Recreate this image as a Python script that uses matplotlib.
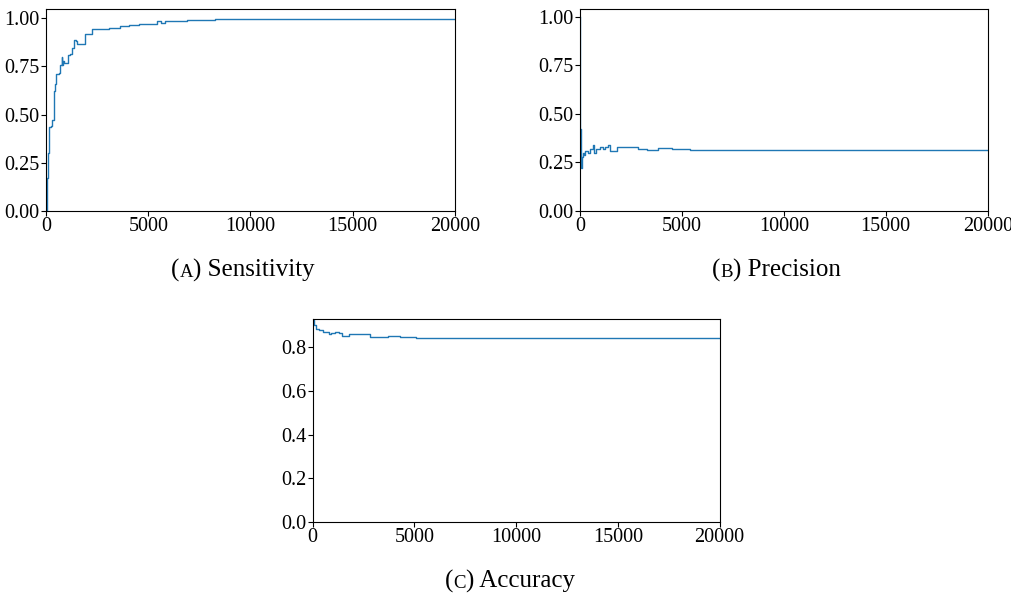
import matplotlib
matplotlib.use("Agg")
import matplotlib.pyplot as plt

plt.rcParams["font.family"] = ["Liberation Serif", "DejaVu Serif"]

# Values (x = iteration, y = metric)
sens_x = [0, 30, 60, 100, 130, 150, 250, 300, 390, 440, 500, 650, 700, 780, 800, 850, 900,
          1050, 1150, 1250, 1370, 1480, 1530, 1890, 2250, 2660, 3070, 3640, 4040, 4530,
          5430, 5600, 5800, 6900, 8250, 20000]
sens_y = [0.0, 0.07, 0.17, 0.30, 0.41, 0.437, 0.44, 0.47, 0.62, 0.66, 0.71, 0.715, 0.756,
          0.80, 0.756, 0.78, 0.765, 0.808, 0.815, 0.843, 0.886, 0.88, 0.864, 0.92, 0.943,
          0.946, 0.95, 0.96, 0.966, 0.972, 0.986, 0.975, 0.984, 0.99, 0.998, 0.998]

prec_x = [0, 15, 40, 60, 90, 130, 200, 250, 410, 480, 620, 700, 800, 1000, 1150, 1250,
          1390, 1470, 1720, 1800, 2530, 2860, 3300, 3820, 4500, 5150, 5400, 20000]
prec_y = [1.0, 0.42, 0.25, 0.22, 0.28, 0.30, 0.29, 0.31, 0.30, 0.32, 0.338, 0.30, 0.32,
          0.33, 0.32, 0.33, 0.338, 0.31, 0.31, 0.33, 0.328, 0.318, 0.316, 0.325, 0.32,
          0.318, 0.316, 0.316]

acc_x = [0, 70, 150, 300, 500, 650, 780, 900, 1080, 1300, 1440, 1800, 2500, 2830, 3400,
         3700, 4300, 5100, 20000]
acc_y = [0.924, 0.90, 0.882, 0.878, 0.87, 0.868, 0.858, 0.862, 0.866, 0.863, 0.852, 0.86,
         0.858, 0.847, 0.846, 0.849, 0.846, 0.842, 0.842]

panels = [
    ("A", "Sensitivity", sens_x, sens_y, [0.0455, 0.646, 0.404, 0.339], (0.240, 0.536), "%.2f"),
    ("B", "Precision", prec_x, prec_y, [0.573, 0.646, 0.403, 0.339], (0.767, 0.536), "%.2f"),
    ("C", "Accuracy", acc_x, acc_y, [0.309, 0.124, 0.402, 0.341], (0.504, 0.014), "%.1f"),
]

fig = plt.figure(figsize=(10.12, 5.96), dpi=100)
renderer = fig.canvas.get_renderer()

for letter, name, xs, ys, rect, cap, fmt in panels:
    ax = fig.add_axes(rect)
    ax.plot(xs, ys, drawstyle="steps-post", color="tab:blue", lw=1.0)
    ax.set_xlim(0, 20000)
    ax.set_ylim(bottom=0)
    ax.set_xticks([0, 5000, 10000, 15000, 20000])
    ax.yaxis.set_major_formatter(matplotlib.ticker.FormatStrFormatter(fmt))
    ax.tick_params(labelsize=14.5, pad=1)

    # caption with small-caps letter
    parts = [("(", 18), (letter, 13.5), (") " + name, 18)]
    texts = [fig.text(0, cap[1], s, fontsize=fs, va="baseline") for s, fs in parts]
    widths = [t.get_window_extent(renderer).width / fig.bbox.width for t in texts]
    x = cap[0] - sum(widths) / 2
    for t, w in zip(texts, widths):
        t.set_x(x)
        x += w

fig.savefig("out.png", dpi=100)
